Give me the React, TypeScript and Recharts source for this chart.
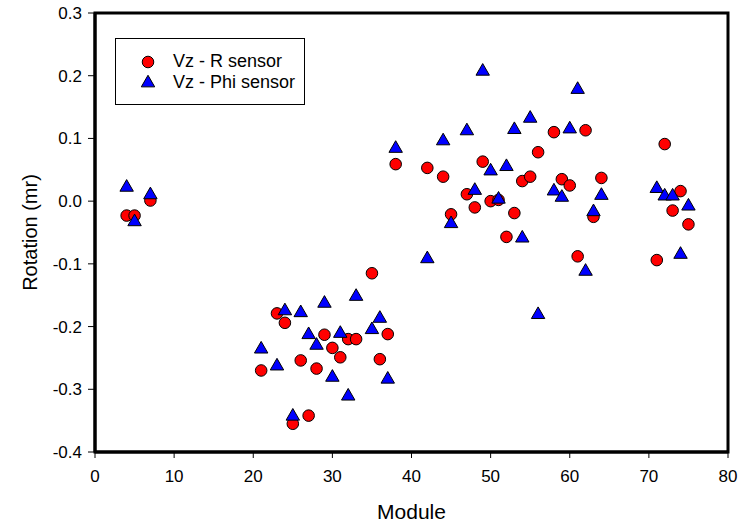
import React from 'react';
import {
  ScatterChart,
  Scatter,
  XAxis,
  YAxis,
  Legend,
  ReferenceArea,
  Symbols,
} from 'recharts';

const modules = [
  4, 5, 7, 21, 23, 24, 25, 26, 27, 28, 29, 30, 31, 32, 33, 35, 36, 37, 38, 42, 44, 45, 47, 48, 49, 50,
  51, 52, 53, 54, 55, 56, 58, 59, 60, 61, 62, 63, 64, 71, 72, 73, 74, 75,
];

const rotationR = [
  -0.023, -0.023, 0.001, -0.27, -0.179, -0.194, -0.355, -0.254, -0.342, -0.267, -0.213, -0.234, -0.249,
  -0.22, -0.22, -0.115, -0.252, -0.212, 0.059, 0.053, 0.039, -0.021, 0.011, -0.01, 0.063, 0.0, 0.002,
  -0.057, -0.019, 0.032, 0.039, 0.078, 0.11, 0.035, 0.025, -0.088, 0.113, -0.025, 0.037, -0.094, 0.091,
  -0.015, 0.016, -0.037,
];

const rotationPhi = [
  0.022, -0.033, 0.01, -0.236, -0.263, -0.175, -0.343, -0.178, -0.213, -0.23, -0.163, -0.281, -0.211,
  -0.311, -0.152, -0.205, -0.187, -0.284, 0.084, -0.092, 0.096, -0.036, 0.112, 0.017, 0.207, 0.048,
  0.003, 0.055, 0.114, -0.059, 0.132, -0.181, 0.016, 0.006, 0.115, 0.178, -0.112, -0.017, 0.009, 0.02,
  0.008, 0.008, -0.085, -0.008,
];

const xTicks = [0, 10, 20, 30, 40, 50, 60, 70, 80];
const yTicks = [-0.4, -0.3, -0.2, -0.1, 0.0, 0.1, 0.2, 0.3];

const seriesNames = ['Vz - R sensor', 'Vz - Phi sensor'];
const seriesColors = ['#ff0000', '#0000ff'];
const seriesShapes: Array<'circle' | 'triangle'> = ['circle', 'triangle'];
const seriesSizes = [105, 78];

const dataR = modules.map((m, i) => ({ x: m, y: rotationR[i] }));
const dataPhi = modules.map((m, i) => ({ x: m, y: rotationPhi[i] }));

const FONT = '"Liberation Sans", Arial, sans-serif';

const makeShape = (i: number) => (props: any) => (
  <Symbols
    cx={props.cx}
    cy={props.cy}
    type={seriesShapes[i]}
    size={seriesSizes[i]}
    fill={seriesColors[i]}
    stroke="#000"
    strokeWidth={1}
  />
);

const LegendBox = () => (
  <div
    style={{
      boxSizing: 'border-box',
      width: 190,
      height: 67,
      border: '1px solid #000',
      background: '#fff',
      paddingTop: 12,
      fontFamily: FONT,
      fontSize: 18,
      color: '#000',
    }}
  >
    {seriesNames.map((name, i) => (
      <div key={name} style={{ display: 'flex', alignItems: 'center', height: 21 }}>
        <svg width={16} height={16} style={{ marginLeft: 24 }}>
          <Symbols
            cx={8}
            cy={8}
            type={seriesShapes[i]}
            size={seriesSizes[i]}
            fill={seriesColors[i]}
            stroke="#000"
            strokeWidth={1}
          />
        </svg>
        <span style={{ marginLeft: 17, whiteSpace: 'nowrap' }}>{name}</span>
      </div>
    ))}
  </div>
);

export default function App() {
  return (
    <div style={{ position: 'absolute', left: 0, top: 0, width: 738, height: 527, background: '#fff' }}>
      <ScatterChart width={738} height={527} margin={{ top: 13, right: 10, bottom: 0, left: 0 }}>
        <XAxis
          type="number"
          dataKey="x"
          domain={[0, 80]}
          ticks={xTicks}
          allowDataOverflow
          height={75}
          tickSize={6}
          tickMargin={12}
          axisLine={{ stroke: '#000', strokeWidth: 3 }}
          tickLine={{ stroke: '#000', strokeWidth: 1 }}
          tick={{ fill: '#000', fontSize: 17, fontFamily: FONT }}
          label={{ value: 'Module', position: 'insideBottom', offset: 8, fontSize: 21, fill: '#000', fontFamily: FONT }}
        />
        <YAxis
          type="number"
          dataKey="y"
          domain={[-0.4, 0.3]}
          ticks={yTicks}
          allowDataOverflow
          width={95}
          tickSize={7}
          tickMargin={6}
          tickFormatter={(v: number) => v.toFixed(1)}
          axisLine={{ stroke: '#000', strokeWidth: 3 }}
          tickLine={{ stroke: '#000', strokeWidth: 1 }}
          tick={{ fill: '#000', fontSize: 17, fontFamily: FONT }}
          label={{
            value: 'Rotation (mr)',
            angle: -90,
            position: 'insideLeft',
            offset: 30,
            fontSize: 20,
            fill: '#000',
            fontFamily: FONT,
            style: { textAnchor: 'middle' },
          }}
        />
        <ReferenceArea x1={0} x2={80} y1={-0.4} y2={0.3} fill="none" fillOpacity={0} stroke="#000" strokeWidth={3} />
        <Legend
          layout="vertical"
          align="center"
          verticalAlign="middle"
          wrapperStyle={{ left: 115, top: 38, width: 190, height: 67 }}
          content={() => <LegendBox />}
        />
        <Scatter
          name={seriesNames[0]}
          data={dataR}
          shape={makeShape(0)}
          fill={seriesColors[0]}
          isAnimationActive={false}
          legendType={seriesShapes[0]}
        />
        <Scatter
          name={seriesNames[1]}
          data={dataPhi}
          shape={makeShape(1)}
          fill={seriesColors[1]}
          isAnimationActive={false}
          legendType={seriesShapes[1]}
        />
      </ScatterChart>
    </div>
  );
}
